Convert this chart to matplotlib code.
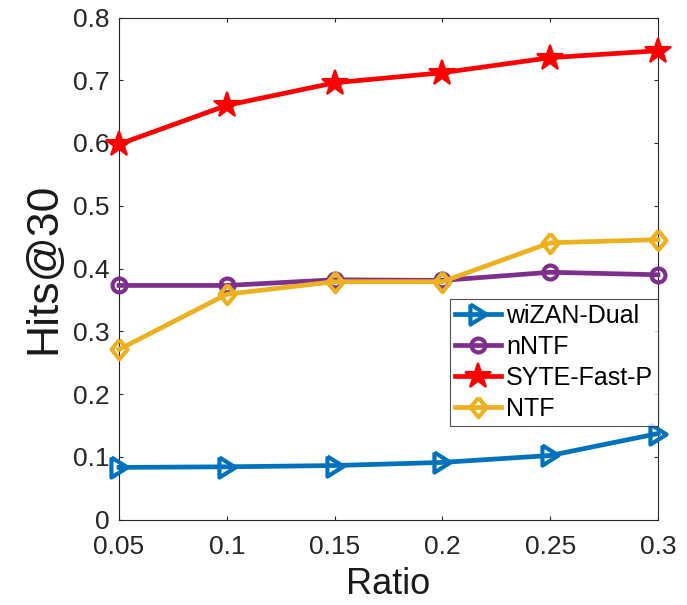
import matplotlib
matplotlib.use("Agg")
import matplotlib.pyplot as plt

ratio = [0.05, 0.1, 0.15, 0.2, 0.25, 0.3]
wizan = [0.083, 0.084, 0.086, 0.091, 0.102, 0.137]
nntf = [0.373, 0.373, 0.382, 0.381, 0.394, 0.390]
syte = [0.598, 0.660, 0.696, 0.712, 0.736, 0.747]
ntf = [0.271, 0.359, 0.379, 0.379, 0.441, 0.446]
yticks = [0, 0.1, 0.2, 0.3, 0.4, 0.5, 0.6, 0.7, 0.8]
xticklabels = ["0.05", "0.1", "0.15", "0.2", "0.25", "0.3"]
yticklabels = ["0", "0.1", "0.2", "0.3", "0.4", "0.5", "0.6", "0.7", "0.8"]

plt.rcParams['font.family'] = ['Liberation Sans', 'DejaVu Sans']

W, H = 687, 605
fig = plt.figure(figsize=(W / 100, H / 100), dpi=100)
l, r, t, b = 119, 658, 17.5, 519.5
ax = fig.add_axes([l / W, (H - b) / H, (r - l) / W, (b - t) / H])

tri_right = [(-0.8, 1), (0.8, 0), (-0.8, -1), (-0.8, 1)]
diamond = [(0, 1), (0.82, 0), (0, -1), (-0.82, 0), (0, 1)]

lw = 3.4
ax.plot(ratio, wizan, color='#0072BD', lw=lw, marker=tri_right, ms=14.5, mfc='none', mew=3.0,
        label='wiZAN-Dual', clip_on=False, zorder=3)
ax.plot(ratio, nntf, color='#7E2F8E', lw=lw, marker='o', ms=10, mfc='none', mew=3.0,
        label='nNTF', clip_on=False, zorder=3)
ax.plot(ratio, syte, color='#FF0000', lw=lw, marker='*', ms=19, mfc='#FF0000', mew=1.5,
        label='SYTE-Fast-P', clip_on=False, zorder=3)
ax.plot(ratio, ntf, color='#EDB120', lw=lw, marker=diamond, ms=14, mfc='none', mew=3.0,
        label='NTF', clip_on=False, zorder=3)

ax.set_xlim(0.05, 0.3)
ax.set_ylim(0, 0.8)
ax.set_xticks(ratio)
ax.set_xticklabels(xticklabels)
ax.set_yticks(yticks)
ax.set_yticklabels(yticklabels)
ax.tick_params(direction='in', top=True, right=True, length=3.2, width=0.8, labelsize=19, colors='#262626')
ax.tick_params(axis='x', pad=11)
ax.tick_params(axis='y', pad=7)
for s in ax.spines.values():
    s.set_color('#262626')
    s.set_linewidth(0.8)

ax.set_xlabel('Ratio', fontsize=26, color='#1a1a1a')
ax.xaxis.set_label_coords(0.5, -0.095)
ax.set_ylabel('Hits@30', fontsize=32, color='#1a1a1a')
ax.yaxis.set_label_coords(-0.102, 0.5)

leg = ax.legend(loc='lower right', bbox_to_anchor=(1.0, 0.186), fontsize=18, frameon=True,
                fancybox=False, edgecolor='#262626', handlelength=1.85, handletextpad=0.2,
                borderpad=0.2, labelspacing=0.28, borderaxespad=0.0)
leg.get_frame().set_linewidth(0.8)
for txt in leg.get_texts():
    txt.set_color('#000000')

fig.savefig('out.png', dpi=100)
